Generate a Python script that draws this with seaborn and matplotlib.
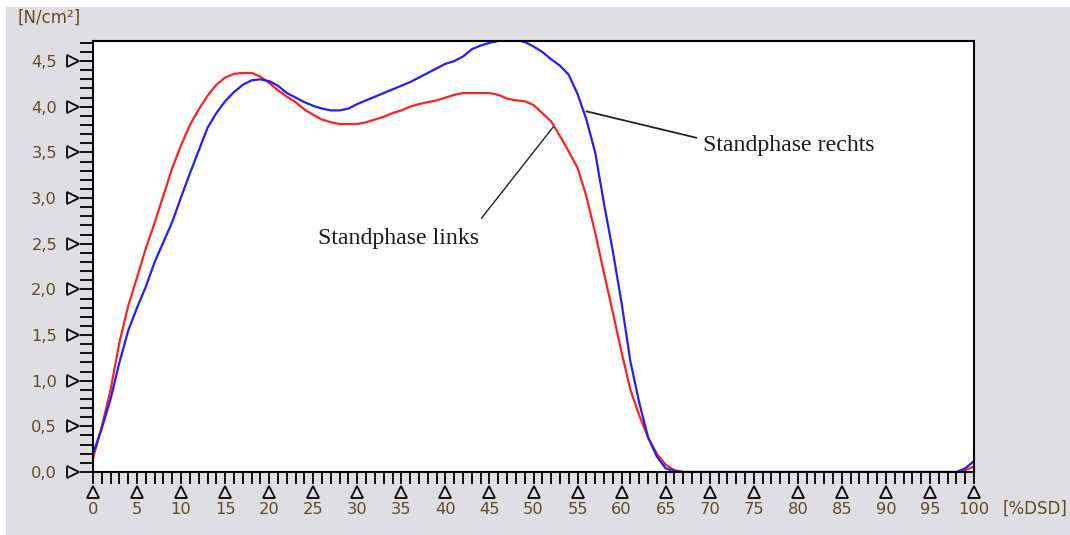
import matplotlib
matplotlib.use("Agg")
import matplotlib.pyplot as plt
import matplotlib.transforms as mtransforms
from matplotlib.patches import Rectangle
import numpy as np
import pandas as pd
import seaborn as sns

# Percent of the double step (x) and mean pressure in N/cm² for each stance phase
x_dsd = list(range(0, 101))

links = [
    0.15, 0.50, 0.90, 1.42, 1.82, 2.13, 2.45, 2.73, 3.03, 3.33,
    3.58, 3.80, 3.97, 4.12, 4.24, 4.32, 4.36, 4.37, 4.37, 4.33,
    4.26, 4.18, 4.11, 4.05, 3.97, 3.91, 3.86, 3.83, 3.81, 3.81,
    3.81, 3.83, 3.86, 3.89, 3.93, 3.96, 4.00, 4.03, 4.05, 4.07,
    4.10, 4.13, 4.15, 4.15, 4.15, 4.15, 4.13, 4.09, 4.07, 4.06,
    4.02, 3.93, 3.84, 3.68, 3.51, 3.33, 3.02, 2.62, 2.18, 1.75,
    1.31, 0.90, 0.62, 0.38, 0.20, 0.08, 0.02, 0.00, 0.00, 0.00,
    0.00, 0.00, 0.00, 0.00, 0.00, 0.00, 0.00, 0.00, 0.00, 0.00,
    0.00, 0.00, 0.00, 0.00, 0.00, 0.00, 0.00, 0.00, 0.00, 0.00,
    0.00, 0.00, 0.00, 0.00, 0.00, 0.00, 0.00, 0.00, 0.00, 0.02,
    0.06,
]

rechts = [
    0.20, 0.48, 0.80, 1.20, 1.55, 1.80, 2.03, 2.30, 2.52, 2.74,
    3.01, 3.27, 3.52, 3.77, 3.93, 4.06, 4.16, 4.24, 4.29, 4.30,
    4.28, 4.23, 4.15, 4.10, 4.05, 4.01, 3.98, 3.96, 3.96, 3.98,
    4.03, 4.07, 4.11, 4.15, 4.19, 4.23, 4.27, 4.32, 4.37, 4.42,
    4.47, 4.50, 4.55, 4.63, 4.67, 4.70, 4.72, 4.73, 4.73, 4.71,
    4.66, 4.60, 4.52, 4.45, 4.35, 4.14, 3.86, 3.50, 2.94, 2.42,
    1.85, 1.21, 0.76, 0.38, 0.17, 0.04, 0.01, 0.00, 0.00, 0.00,
    0.00, 0.00, 0.00, 0.00, 0.00, 0.00, 0.00, 0.00, 0.00, 0.00,
    0.00, 0.00, 0.00, 0.00, 0.00, 0.00, 0.00, 0.00, 0.00, 0.00,
    0.00, 0.00, 0.00, 0.00, 0.00, 0.00, 0.00, 0.00, 0.00, 0.04,
    0.12,
]

series_names = ["Standphase links", "Standphase rechts"]
series_colors = ["#ff2020", "#1f1fff"]

y_major = [0.0, 0.5, 1.0, 1.5, 2.0, 2.5, 3.0, 3.5, 4.0, 4.5]
y_major_labels = ["0,0", "0,5", "1,0", "1,5", "2,0", "2,5", "3,0", "3,5", "4,0", "4,5"]
x_major = list(range(0, 101, 5))
x_major_labels = [str(v) for v in x_major]

y_unit = "[N/cm²]"
x_unit = "[%DSD]"

# Leader lines (curve point -> label) and label anchors, in data coordinates
leader_links = ([52.25, 44.1], [3.78, 2.78])
leader_rechts = ([56.0, 68.5], [3.95, 3.66])
label_links_pos = (25.5, 2.56)
label_rechts_pos = (69.2, 3.58)

sns.set_style("white")
plt.rcParams["font.family"] = ["DejaVu Sans"]

W, H, DPI = 1070, 535, 100
fig = plt.figure(figsize=(W / DPI, H / DPI), dpi=DPI, facecolor="white")

# grey panel behind the plot, leaving a thin white edge at top and left
fig.patches.append(Rectangle((6 / W, 0), 1 - 6 / W, (H - 7) / H,
                             transform=fig.transFigure, facecolor="#dfdee3",
                             edgecolor="none", zorder=-10))

ax = fig.add_axes([93 / W, 1 - 472 / H, (974 - 93) / W, (472 - 41) / H])
ax.set_zorder(1)
ax.set_facecolor("white")

df = pd.DataFrame({
    "x": x_dsd * 2,
    "p": links + rechts,
    "seite": [series_names[0]] * len(links) + [series_names[1]] * len(rechts),
})
sns.lineplot(data=df, x="x", y="p", hue="seite", palette=dict(zip(series_names, series_colors)),
             linewidth=1.6, legend=False, ax=ax)

ax.set_xlim(0, 100)
ax.set_ylim(0, 4.72)
ax.set_xlabel("")
ax.set_ylabel("")

tick_color = "#5e4b2c"
ax.set_yticks(y_major)
ax.set_yticklabels(y_major_labels)
ax.set_yticks(np.round(np.arange(0, 4.71, 0.1), 2), minor=True)
ax.set_xticks(x_major)
ax.set_xticklabels(x_major_labels)
ax.set_xticks(x_dsd, minor=True)

ax.tick_params(axis="y", which="both", direction="out", length=9.4, width=1.3,
               color="black", left=True)
ax.tick_params(axis="y", which="major", pad=16.5, labelsize=11.7, labelcolor=tick_color)
ax.tick_params(axis="x", which="both", direction="out", length=8.8, width=1.3,
               color="black", bottom=True)
ax.tick_params(axis="x", which="major", pad=13, labelsize=11.7, labelcolor=tick_color)

for sp in ax.spines.values():
    sp.set_visible(True)
    sp.set_color("black")
    sp.set_linewidth(1.5)

# open triangle markers next to the major ticks
ytrans = ax.get_yaxis_transform() + mtransforms.ScaledTranslation(-20 / DPI, 0, fig.dpi_scale_trans)
ax.plot([0] * len(y_major), y_major, ls="none", marker=">", ms=9, mfc="none",
        mec="black", mew=1.3, transform=ytrans, clip_on=False)
xtrans = ax.get_xaxis_transform() + mtransforms.ScaledTranslation(0, -20 / DPI, fig.dpi_scale_trans)
ax.plot(x_major, [0] * len(x_major), ls="none", marker="^", ms=9, mfc="none",
        mec="black", mew=1.3, transform=xtrans, clip_on=False)

# annotations
ax.plot(*leader_links, color="#222222", lw=1.0)
ax.plot(*leader_rechts, color="#222222", lw=1.3)
ax.text(*label_links_pos, series_names[0], family="Liberation Serif", fontsize=17.2,
        color="#1a1a1a", ha="left", va="center")
ax.text(*label_rechts_pos, series_names[1], family="Liberation Serif", fontsize=17.2,
        color="#1a1a1a", ha="left", va="center")

fig.text(18 / W, 1 - 18 / H, y_unit, fontsize=12, color=tick_color, ha="left", va="center")
fig.text(1003 / W, 1 - 509 / H, x_unit, fontsize=12, color=tick_color, ha="left", va="center")

fig.savefig("out.png", dpi=DPI, facecolor="white")
